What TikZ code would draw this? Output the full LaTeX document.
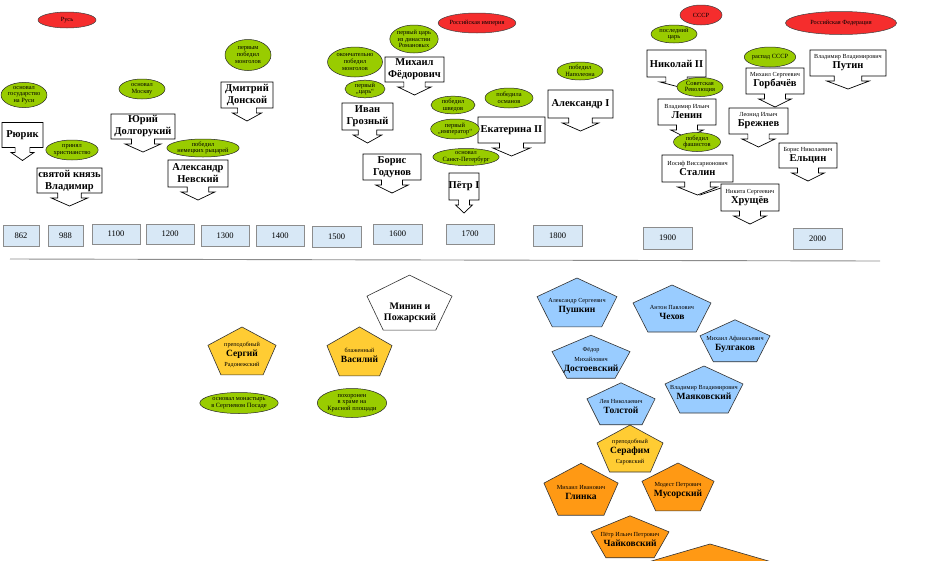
\documentclass[tikz,border=0pt]{standalone}
\usepackage{fontspec}
\setmainfont{Liberation Serif}
\usetikzlibrary{shapes.geometric,calc}
\definecolor{grn}{RGB}{153,204,0}
\definecolor{rd}{RGB}{245,45,45}
\definecolor{yb}{RGB}{216,232,246}
\definecolor{bl}{RGB}{153,204,255}
\definecolor{ye}{RGB}{255,204,51}
\definecolor{orn}{RGB}{255,153,20}
\tikzset{
 ev/.style={ellipse, draw=black!85, line width=0.5pt, fill=grn, inner sep=0pt, align=center, font=\fontsize{6.4}{6.7}\selectfont},
 rv/.style={ellipse, draw=black!75, line width=0.5pt, fill=rd, inner sep=0pt, align=center, font=\fontsize{6.3}{7}\selectfont},
 cbox/.style={rectangle, inner sep=0pt, align=center, font=\fontsize{10.5}{12}\selectfont\bfseries},
 cline/.style={draw=black, line width=0.7pt, line join=miter},
 yearbox/.style={rectangle, draw=black!45, line width=0.9pt, fill=yb, inner sep=0pt, font=\fontsize{8.5}{9}\selectfont},
 pline/.style={line width=0.6pt, draw=black!80, line join=miter},
 ptext/.style={align=center, inner sep=0pt, font=\fontsize{9.5}{10}\selectfont\bfseries},
 sepline/.style={draw=black!45, line width=0.9pt},
}
\newcommand\smt[1]{{\fontsize{6.2}{6.5}\selectfont\mdseries #1}}
% name, cx, cy, w, h, tip dx, text
\newcommand\cbx[7]{%
  \path[cline, fill=white] ({#2-#4/2},{#3-#5/2}) -- ({#2+#4/2},{#3-#5/2}) -- ({#2+#4/2},{#3+#5/2})
    -- ({#2+0.18*#4},{#3+#5/2}) -- ({#2+0.18*#4},{#3+#5/2+5}) -- ({#2+0.28*#4},{#3+#5/2+5})
    -- ({#2+#6},{#3+#5/2+13}) -- ({#2-0.28*#4},{#3+#5/2+5}) -- ({#2-0.18*#4},{#3+#5/2+5})
    -- ({#2-0.18*#4},{#3+#5/2}) -- ({#2-#4/2},{#3+#5/2}) -- cycle;
  \node[cbox, minimum width=#4pt, minimum height=#5pt] (#1) at (#2,#3) {#7};
}
% outline only: cx, cy, rx, ry, fill
\newcommand\pgpath[5]{%
  \path[pline, fill=#5] ({#1},{#2-#4}) -- ({#1+0.951*#3},{#2-0.309*#4}) -- ({#1+0.588*#3},{#2+0.809*#4})
    -- ({#1-0.588*#3},{#2+0.809*#4}) -- ({#1-0.951*#3},{#2-0.309*#4}) -- cycle;
}
% name, cx, cy, rx, ry, fill, text
\newcommand\pgon[7]{%
  \pgpath{#2}{#3}{#4}{#5}{#6}
  \node[ptext] (#1) at (#2,{#3+1}) {#7};
}
\begin{document}
\begin{tikzpicture}[x=1pt,y=-1pt]
\useasboundingbox (0,0) rectangle (944,560);
\clip (0,0) rectangle (944,560);
\fill[white] (0,0) rectangle (944,560);

% red eras
\node[rv, minimum width=58pt, minimum height=16pt] (rus) at (67,20) {Русь};
\node[rv, minimum width=71pt, minimum height=20pt] (imperia) at (477,23) {Российская империя};
\node[rv, minimum width=42pt, minimum height=20pt] (sssr) at (701,15) {СССР};
\node[rv, minimum width=111pt, minimum height=23pt] (rf) at (841,23) {Российская Федерация};

% callouts
\cbx{rurik}{22.5}{135}{41}{25}{0}{Рюрик}
\cbx{vladimir}{69.5}{180.5}{65}{25}{0}{святой князь\\Владимир}
\cbx{yuri}{143}{126.5}{64}{25}{0}{Юрий\\Долгорукий}
\cbx{nevsky}{198}{173.5}{60}{27}{0}{Александр\\Невский}
\cbx{donskoy}{247}{95}{52}{26}{0}{Дмитрий\\Донской}
\cbx{grozny}{367.5}{116.5}{51}{27}{0}{Иван\\Грозный}
\cbx{mikhail}{414.5}{69.5}{59}{25}{0}{Михаил\\Фёдорович}
\cbx{godunov}{392}{167}{58}{26}{0}{Борис\\Годунов}
\cbx{petr}{464}{186.5}{30}{27}{0}{Пётр I}
\cbx{ekaterina}{511.5}{130}{67}{26}{0}{Екатерина II}
\cbx{alex}{580.5}{104}{65}{28}{0}{Александр I}
\cbx{nikolai}{676.5}{63.5}{59}{27}{14}{Николай II}
\cbx{lenin}{687}{112}{58}{26}{0}{\smt{Владимир Ильич}\\[-2pt]Ленин}
\cbx{stalin}{697.5}{168.5}{71}{27}{0}{\smt{Иосиф Виссарионович}\\[-2pt]Сталин}
\cbx{khrushchev}{750}{197.5}{58}{27}{0}{\smt{Никита Сергеевич}\\[-2pt]Хрущёв}
\cbx{gorbachev}{775}{81}{58}{26}{0}{\smt{Михаил Сергеевич}\\[-2pt]Горбачёв}
\cbx{brezhnev}{758.5}{121}{59}{26}{0}{\smt{Леонид Ильич}\\[-2pt]Брежнев}
\cbx{yeltsin}{808}{155.5}{58}{25}{0}{\smt{Борис Николаевич}\\[-2pt]Ельцин}
\cbx{putin}{848}{63}{76}{26}{0}{\smt{Владимир Владимирович}\\[-2pt]Путин}
\draw[cline] ($(stalin.south)+(2,13)$) -- ($(khrushchev.west)+(0,-9.5)$);

% green notes
\node[ev, minimum width=45pt, minimum height=24pt] (e1) at (24,95) {основал\\государство\\на Руси};
\node[ev, minimum width=46pt, minimum height=20pt] (e2) at (72,150) {принял\\христианство};
\node[ev, minimum width=46pt, minimum height=20pt] (e3) at (142,89) {основал\\Москву};
\node[ev, minimum width=71pt, minimum height=18pt] (e4) at (203,148) {победил\\немецких рыцарей};
\node[ev, minimum width=46pt, minimum height=31pt] (e5) at (248,55) {первым\\победил\\монголов};
\node[ev, minimum width=55pt, minimum height=30pt] (e6) at (355,62) {окончательно\\победил\\монголов};
\node[ev, minimum width=40pt, minimum height=16pt] (e7) at (365,89) {первый\\„царь“};
\node[ev, minimum width=45pt, minimum height=28pt] (e8) at (414,39) {первый царь\\из династии\\Романовых};
\node[ev, minimum width=44pt, minimum height=17pt] (e9) at (453,105) {победил\\шведов};
\node[ev, minimum width=40pt, minimum height=20pt] (e10) at (455,129) {первый\\„император“};
\node[ev, minimum width=63pt, minimum height=17pt] (e11) at (466,157) {основал\\Санкт-Петербург};
\node[ev, minimum width=48pt, minimum height=20pt] (e12) at (509,98) {победила\\османов};
\node[ev, minimum width=46pt, minimum height=18pt] (e13) at (580,71) {победил\\Наполеона};
\node[ev, minimum width=46pt, minimum height=18pt] (e14) at (674,34) {последний\\царь};
\node[ev, minimum width=46pt, minimum height=19pt] (e15) at (700,87) {Советская\\Революция};
\node[ev, minimum width=47pt, minimum height=19pt] (e16) at (697,142) {победил\\фашистов};
\node[ev, minimum width=41pt, minimum height=20pt] (e17) at (770,57) {распад СССР};

% years
\node[yearbox, minimum width=36pt, minimum height=21pt] (y862) at (21,235.5) {862};
\node[yearbox, minimum width=35pt, minimum height=21pt] (y988) at (65.5,235.5) {988};
\node[yearbox, minimum width=48pt, minimum height=20pt] (y1100) at (116,234) {1100};
\node[yearbox, minimum width=48pt, minimum height=20pt] (y1200) at (170,234) {1200};
\node[yearbox, minimum width=48pt, minimum height=21pt] (y1300) at (225,235.5) {1300};
\node[yearbox, minimum width=48pt, minimum height=21pt] (y1400) at (280,235.5) {1400};
\node[yearbox, minimum width=49pt, minimum height=21pt] (y1500) at (336.5,236.5) {1500};
\node[yearbox, minimum width=49pt, minimum height=20pt] (y1600) at (397.5,234) {1600};
\node[yearbox, minimum width=48pt, minimum height=20pt] (y1700) at (470,234) {1700};
\node[yearbox, minimum width=49pt, minimum height=21pt] (y1800) at (557.5,235.5) {1800};
\node[yearbox, minimum width=49pt, minimum height=22pt] (y1900) at (667.5,238) {1900};
\node[yearbox, minimum width=49pt, minimum height=21pt] (y2000) at (817.5,238.5) {2000};

\draw[sepline] (10,259) -- (880,261);

% saints
\pgon{sergiy}{242}{353.5}{35.8}{26.5}{ye}{\smt{преподобный}\\Сергий\\\smt{Радонежский}}
\pgon{vasiliy}{359.5}{354}{34.2}{27.1}{ye}{\smt{блаженный}\\Василий}
\pgpath{409.5}{305.5}{44.7}{30.4}{white}
\node[ptext, font=\fontsize{10}{11.5}\selectfont\bfseries] (minin) at (410,313) {Минин и\\Пожарский};
\node[ev, minimum width=72pt, minimum height=21pt] (e18) at (239,403) {основал монастырь\\в Сергиевом Посаде};
\node[ev, minimum width=62pt, minimum height=29pt] (e19) at (352,403) {похоронен\\в храме на\\Красной площади};

% writers
\pgon{pushkin}{577}{305}{42}{27}{bl}{\smt{Александр Сергеевич}\\Пушкин}
\pgon{chekhov}{672}{311}{41}{26}{bl}{\smt{Антон Павлович}\\Чехов}
\pgon{bulgakov}{735}{343}{36.8}{23.2}{bl}{\smt{Михаил Афанасьевич}\\Булгаков}
\pgon{dostoevsky}{591}{359}{41}{23.8}{bl}{\smt{Фёдор}\\\smt{Михайлович}\\Достоевский}
\pgon{mayakovsky}{704}{392}{41}{26}{bl}{\smt{Владимир Владимирович}\\Маяковский}
\pgon{tolstoy}{621}{406}{35.8}{23.2}{bl}{\smt{Лев Николаевич}\\Толстой}
\pgon{serafim}{630}{451}{34.7}{26}{ye}{\smt{преподобный}\\Серафим\\\smt{Саровский}}
% composers
\pgon{glinka}{581}{492}{39}{28.7}{orn}{\smt{Михаил Иванович}\\Глинка}
\pgon{musorsky}{678}{489.5}{37.9}{26.5}{orn}{\smt{Модест Петрович}\\Мусорский}
\pgon{tchaikovsky}{630}{539}{41}{23.2}{orn}{\smt{Пётр Ильич Петрович}\\Чайковский}
\path[pline, fill=orn] (710,544) -- (820,576) -- (780,640) -- (640,640) -- (600,576) -- cycle;
\end{tikzpicture}
\end{document}
